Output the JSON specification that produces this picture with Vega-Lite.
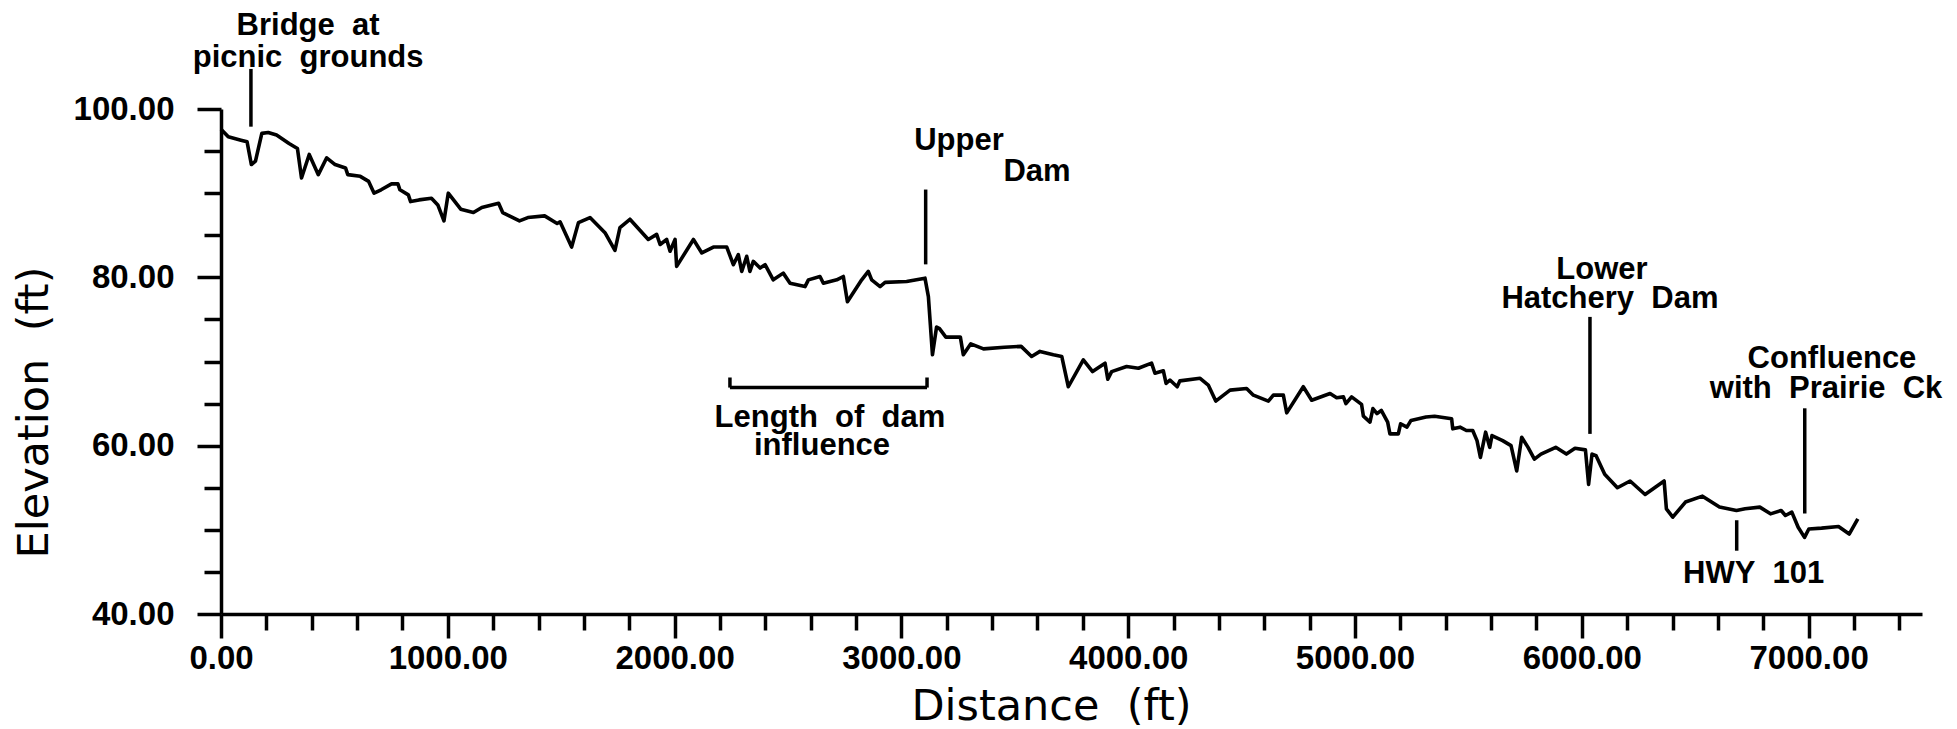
{
  "$schema": "https://vega.github.io/schema/vega-lite/v6.json",
  "width": 1701,
  "height": 505,
  "autosize": {"type": "none"},
  "padding": {"left": 221, "top": 109, "right": 35, "bottom": 115},
  "background": "white",
  "config": {"view": {"stroke": null}},
  "datasets": {
    "profile": [
      {"d": 0, "elev": 97.6}, {"d": 32, "elev": 96.7}, {"d": 88, "elev": 96.3}, {"d": 115, "elev": 96.1}, {"d": 134, "elev": 93.4}, {"d": 152, "elev": 93.8}, {"d": 180, "elev": 97.1}, {"d": 208, "elev": 97.2}, {"d": 245, "elev": 96.9}, {"d": 300, "elev": 95.9}, {"d": 337, "elev": 95.3}, {"d": 355, "elev": 91.8}, {"d": 389, "elev": 94.6}, {"d": 429, "elev": 92.2}, {"d": 466, "elev": 94.2}, {"d": 503, "elev": 93.4}, {"d": 549, "elev": 93.0}, {"d": 559, "elev": 92.2}, {"d": 614, "elev": 92.0}, {"d": 651, "elev": 91.4}, {"d": 675, "elev": 90.0}, {"d": 706, "elev": 90.4}, {"d": 752, "elev": 91.1}, {"d": 780, "elev": 91.1}, {"d": 789, "elev": 90.4}, {"d": 826, "elev": 89.8}, {"d": 836, "elev": 89.0}, {"d": 873, "elev": 89.2}, {"d": 928, "elev": 89.4}, {"d": 956, "elev": 88.6}, {"d": 983, "elev": 86.7}, {"d": 1002, "elev": 90.0}, {"d": 1057, "elev": 88.1}, {"d": 1113, "elev": 87.7}, {"d": 1150, "elev": 88.3}, {"d": 1224, "elev": 88.8}, {"d": 1242, "elev": 87.7}, {"d": 1316, "elev": 86.7}, {"d": 1353, "elev": 87.1}, {"d": 1427, "elev": 87.3}, {"d": 1482, "elev": 86.4},
      {"d": 1495, "elev": 86.6}, {"d": 1546, "elev": 83.6}, {"d": 1576, "elev": 86.5}, {"d": 1627, "elev": 87.1}, {"d": 1693, "elev": 85.3}, {"d": 1737, "elev": 83.2}, {"d": 1759, "elev": 85.9}, {"d": 1803, "elev": 86.9}, {"d": 1884, "elev": 84.5}, {"d": 1921, "elev": 85.1}, {"d": 1936, "elev": 83.9}, {"d": 1965, "elev": 84.5}, {"d": 1980, "elev": 83.1}, {"d": 2002, "elev": 84.5}, {"d": 2009, "elev": 81.3}, {"d": 2083, "elev": 84.5}, {"d": 2120, "elev": 82.9}, {"d": 2171, "elev": 83.6}, {"d": 2230, "elev": 83.6}, {"d": 2259, "elev": 81.5}, {"d": 2281, "elev": 82.7}, {"d": 2296, "elev": 80.7}, {"d": 2318, "elev": 82.5}, {"d": 2332, "elev": 80.7}, {"d": 2347, "elev": 81.9}, {"d": 2377, "elev": 81.1}, {"d": 2399, "elev": 81.5}, {"d": 2435, "elev": 79.7}, {"d": 2479, "elev": 80.5}, {"d": 2509, "elev": 79.3}, {"d": 2575, "elev": 78.9}, {"d": 2590, "elev": 79.7}, {"d": 2641, "elev": 80.1}, {"d": 2656, "elev": 79.3}, {"d": 2715, "elev": 79.7}, {"d": 2744, "elev": 80.1}, {"d": 2762, "elev": 77.1}, {"d": 2825, "elev": 79.7}, {"d": 2854, "elev": 80.7}, {"d": 2869, "elev": 79.7}, {"d": 2906, "elev": 78.9}, {"d": 2928, "elev": 79.4}, {"d": 3023, "elev": 79.5}, {"d": 3104, "elev": 79.9}, {"d": 3119, "elev": 77.7},
      {"d": 3137, "elev": 70.8}, {"d": 3155, "elev": 74.1}, {"d": 3168, "elev": 73.9}, {"d": 3196, "elev": 72.9}, {"d": 3260, "elev": 72.9}, {"d": 3273, "elev": 70.8}, {"d": 3306, "elev": 72.1}, {"d": 3362, "elev": 71.5}, {"d": 3454, "elev": 71.7}, {"d": 3528, "elev": 71.8}, {"d": 3574, "elev": 70.6}, {"d": 3611, "elev": 71.2},
      {"d": 3670, "elev": 70.8}, {"d": 3707, "elev": 70.6}, {"d": 3736, "elev": 67.0}, {"d": 3802, "elev": 70.2}, {"d": 3843, "elev": 68.8}, {"d": 3876, "elev": 69.4}, {"d": 3898, "elev": 69.8}, {"d": 3910, "elev": 67.9}, {"d": 3927, "elev": 68.8}, {"d": 3993, "elev": 69.4}, {"d": 4045, "elev": 69.2}, {"d": 4103, "elev": 69.8}, {"d": 4118, "elev": 68.6}, {"d": 4155, "elev": 68.9}, {"d": 4167, "elev": 67.4}, {"d": 4184, "elev": 67.8}, {"d": 4216, "elev": 67.0}, {"d": 4228, "elev": 67.7}, {"d": 4317, "elev": 68.0}, {"d": 4353, "elev": 67.2}, {"d": 4386, "elev": 65.3}, {"d": 4449, "elev": 66.6}, {"d": 4522, "elev": 66.8}, {"d": 4552, "elev": 66.0}, {"d": 4618, "elev": 65.3}, {"d": 4640, "elev": 66.0}, {"d": 4684, "elev": 66.0}, {"d": 4699, "elev": 63.9}, {"d": 4772, "elev": 67.0}, {"d": 4809, "elev": 65.4}, {"d": 4890, "elev": 66.2}, {"d": 4919, "elev": 65.7}, {"d": 4949, "elev": 65.8}, {"d": 4960, "elev": 65.0}, {"d": 4985, "elev": 65.8}, {"d": 5029, "elev": 64.9}, {"d": 5037, "elev": 63.5}, {"d": 5066, "elev": 62.8},
      {"d": 5079, "elev": 64.4}, {"d": 5097, "elev": 63.8}, {"d": 5116, "elev": 64.2}, {"d": 5144, "elev": 62.8}, {"d": 5154, "elev": 61.4}, {"d": 5191, "elev": 61.4}, {"d": 5201, "elev": 62.6}, {"d": 5229, "elev": 62.2}, {"d": 5247, "elev": 63.0}, {"d": 5313, "elev": 63.4}, {"d": 5351, "elev": 63.5}, {"d": 5426, "elev": 63.2}, {"d": 5431, "elev": 62.0}, {"d": 5463, "elev": 62.2}, {"d": 5491, "elev": 61.8}, {"d": 5519, "elev": 61.8}, {"d": 5538, "elev": 60.6}, {"d": 5553, "elev": 58.6}, {"d": 5576, "elev": 61.6}, {"d": 5594, "elev": 59.8}, {"d": 5604, "elev": 61.2}, {"d": 5651, "elev": 60.6}, {"d": 5688, "elev": 60.0}, {"d": 5713, "elev": 57.0}, {"d": 5735, "elev": 61.0}, {"d": 5763, "elev": 59.8}, {"d": 5791, "elev": 58.4}, {"d": 5820, "elev": 59.0}, {"d": 5885, "elev": 59.8}, {"d": 5932, "elev": 59.0}, {"d": 5970, "elev": 59.7}, {"d": 6016, "elev": 59.5}, {"d": 6030, "elev": 55.4}, {"d": 6045, "elev": 59.0}, {"d": 6063, "elev": 58.8}, {"d": 6101, "elev": 56.6}, {"d": 6157, "elev": 55.0}, {"d": 6213, "elev": 55.8}, {"d": 6279, "elev": 54.2}, {"d": 6363, "elev": 55.8}, {"d": 6373, "elev": 52.5}, {"d": 6401, "elev": 51.5}, {"d": 6457, "elev": 53.3}, {"d": 6532, "elev": 54.0}, {"d": 6607, "elev": 52.7}, {"d": 6682, "elev": 52.3}, {"d": 6720, "elev": 52.5}, {"d": 6785, "elev": 52.7}, {"d": 6832, "elev": 51.9}, {"d": 6879, "elev": 52.3}, {"d": 6898, "elev": 51.7}, {"d": 6926, "elev": 52.1}, {"d": 6954, "elev": 50.3}, {"d": 6982, "elev": 49.1}, {"d": 7001, "elev": 50.1}, {"d": 7057, "elev": 50.2}, {"d": 7132, "elev": 50.4}, {"d": 7179, "elev": 49.5}, {"d": 7217, "elev": 51.3}
    ],
    "markers": [
      {"name": "Bridge", "x": 132, "x2": 132, "y": 97.9, "y2": 104.76},
      {"name": "Upper Dam", "x": 3107, "x2": 3107, "y": 81.54, "y2": 90.43},
      {"name": "Lower Hatchery Dam", "x": 6036, "x2": 6036, "y": 61.4, "y2": 75.3},
      {"name": "Confluence", "x": 6983, "x2": 6983, "y": 51.94, "y2": 64.44},
      {"name": "HWY 101", "x": 6683, "x2": 6683, "y": 47.52, "y2": 51.14},
      {"name": "Dam influence", "x": 2244, "x2": 3113, "y": 66.9, "y2": 66.9},
      {"name": "Dam influence start", "x": 2244, "x2": 2244, "y": 66.9, "y2": 68.1},
      {"name": "Dam influence end", "x": 3113, "x2": 3113, "y": 66.9, "y2": 68.1}
    ],
    "labels": [
      {"text": "Bridge\u00a0\u00a0at", "x": 384, "y": 108.8},
      {"text": "picnic\u00a0\u00a0grounds", "x": 384, "y": 104.96},
      {"text": "Upper", "x": 3254, "y": 95.07},
      {"text": "Dam", "x": 3598, "y": 91.42},
      {"text": "Length\u00a0\u00a0of\u00a0\u00a0dam", "x": 2685, "y": 62.18},
      {"text": "influence", "x": 2650, "y": 58.9},
      {"text": "Lower", "x": 6089, "y": 79.76},
      {"text": "Hatchery\u00a0\u00a0Dam", "x": 6124, "y": 76.33},
      {"text": "Confluence", "x": 7103, "y": 69.28},
      {"text": "with\u00a0\u00a0Prairie\u00a0\u00a0Ck", "x": 7077, "y": 65.65},
      {"text": "HWY\u00a0\u00a0101", "x": 6758, "y": 43.69}
    ]
  },
  "layer": [
    {
      "data": {"name": "profile"},
      "mark": {"type": "line", "color": "black", "strokeWidth": 3.6, "strokeJoin": "round"},
      "encoding": {
        "x": {
          "field": "d", "type": "quantitative",
          "scale": {"domain": [0, 7500], "nice": false, "zero": false},
          "axis": {
            "values": [0,100,200,300,400,500,600,700,800,900,1000,1100,1200,1300,1400,1500,1600,1700,1800,1900,2000,2100,2200,2300,2400,2500,2600,2700,2800,2900,3000,3100,3200,3300,3400,3500,3600,3700,3800,3900,4000,4100,4200,4300,4400,4500,4600,4700,4800,4900,5000,5100,5200,5300,5400,5500,5600,5700,5800,5900,6000,6100,6200,6300,6400,6500,6600,6700,6800,6900,7000,7100,7200,7300,7400,7500],
            "labelExpr": "datum.value % 1000 === 0 ? format(datum.value, '.2f') : ''",
            "tickSize": {"condition": {"test": "datum.value % 1000 === 0", "value": 24}, "value": 16},
            "tickWidth": 3.5, "tickColor": "black",
            "domainWidth": 3.5, "domainColor": "black",
            "grid": false,
            "labelFont": "Liberation Sans", "labelFontSize": 33, "labelFontWeight": "bold", "labelColor": "black",
            "labelPadding": 4, "labelOverlap": false, "labelFlush": false, "labelDx": -6,
            "title": "Distance\u00a0\u00a0(ft)",
            "titleFont": "DejaVu Sans", "titleFontWeight": "normal", "titleFontSize": 43, "titleColor": "black",
            "titleX": 830, "titleY": 105, "titleAlign": "center", "titleBaseline": "alphabetic"
          }
        },
        "y": {
          "field": "elev", "type": "quantitative",
          "scale": {"domain": [40, 100], "nice": false, "zero": false},
          "axis": {
            "values": [40,45,50,55,60,65,70,75,80,85,90,95,100],
            "labelExpr": "datum.value % 20 === 0 ? format(datum.value, '.2f') : ''",
            "tickSize": {"condition": {"test": "datum.value % 20 === 0", "value": 24}, "value": 17},
            "tickWidth": 3.5, "tickColor": "black",
            "domainWidth": 3.5, "domainColor": "black",
            "grid": false,
            "labelFont": "Liberation Sans", "labelFontSize": 33, "labelFontWeight": "bold", "labelColor": "black",
            "labelPadding": 23, "labelOverlap": false, "labelFlush": false,
            "title": "Elevation\u00a0\u00a0(ft)",
            "titleFont": "DejaVu Sans", "titleFontWeight": "normal", "titleFontSize": 43, "titleColor": "black",
            "titleX": -174, "titleY": 303, "titleAlign": "center", "titleBaseline": "alphabetic", "titleAngle": -90
          }
        }
      }
    },
    {
      "data": {"name": "markers"},
      "mark": {"type": "rule", "color": "black", "strokeWidth": 3.5},
      "encoding": {
        "x": {"field": "x", "type": "quantitative"},
        "x2": {"field": "x2"},
        "y": {"field": "y", "type": "quantitative"},
        "y2": {"field": "y2"}
      }
    },
    {
      "data": {"name": "labels"},
      "mark": {"type": "text", "color": "black", "font": "Liberation Sans", "fontSize": 31, "fontWeight": "bold", "align": "center", "baseline": "alphabetic"},
      "encoding": {
        "x": {"field": "x", "type": "quantitative"},
        "y": {"field": "y", "type": "quantitative"},
        "text": {"field": "text"}
      }
    }
  ]
}
